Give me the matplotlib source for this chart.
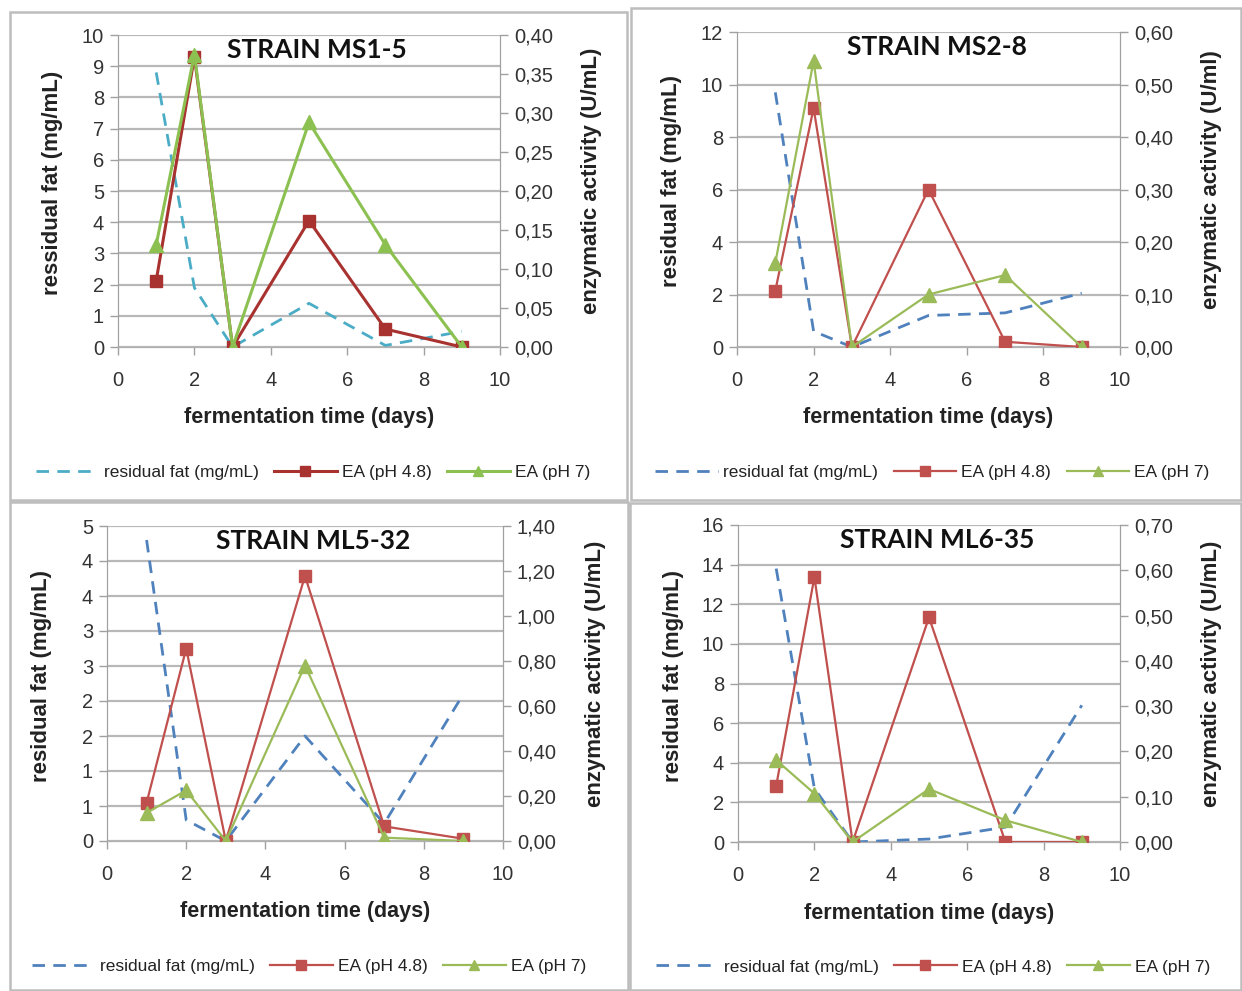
import matplotlib
matplotlib.use("Agg")
import matplotlib.pyplot as plt
from matplotlib.patches import Rectangle
from matplotlib.lines import Line2D

plt.rcParams['font.family'] = ['Liberation Sans', 'DejaVu Sans']

W, H = 1242, 991

days = [1, 2, 3, 5, 7, 9]

titles = ["STRAIN MS1-5", "STRAIN MS2-8", "STRAIN ML5-32", "STRAIN ML6-35"]

fat_ms15 = [8.8, 1.9, 0.0, 1.4, 0.05, 0.5]
ea48_ms15 = [0.085, 0.372, 0.0, 0.162, 0.023, 0.0]
ea7_ms15 = [0.131, 0.375, 0.0, 0.288, 0.131, 0.0]

fat_ms28 = [9.7, 0.6, 0.0, 1.2, 1.3, 2.05]
ea48_ms28 = [0.107, 0.455, 0.0, 0.300, 0.010, 0.0]
ea7_ms28 = [0.160, 0.545, 0.0, 0.100, 0.137, 0.0]

fat_ml532 = [4.3, 0.3, 0.0, 1.5, 0.25, 2.1]
ea48_ml532 = [0.17, 0.855, 0.0, 1.178, 0.065, 0.01]
ea7_ml532 = [0.125, 0.225, 0.0, 0.78, 0.015, 0.0]

fat_ml635 = [13.8, 2.7, 0.0, 0.15, 0.75, 6.9]
ea48_ml635 = [0.124, 0.585, 0.0, 0.496, 0.0, 0.0]
ea7_ml635 = [0.181, 0.107, 0.0, 0.117, 0.048, 0.0]

left_ticks = [
    [0, 1, 2, 3, 4, 5, 6, 7, 8, 9, 10],
    [0, 2, 4, 6, 8, 10, 12],
    [0, 0.5, 1.0, 1.5, 2.0, 2.5, 3.0, 3.5, 4.0, 4.5],
    [0, 2, 4, 6, 8, 10, 12, 14, 16],
]
left_ticklabels = [
    ["0", "1", "2", "3", "4", "5", "6", "7", "8", "9", "10"],
    ["0", "2", "4", "6", "8", "10", "12"],
    ["0", "1", "1", "2", "2", "3", "3", "4", "4", "5"],
    ["0", "2", "4", "6", "8", "10", "12", "14", "16"],
]
right_ticks = [
    [0, 0.05, 0.10, 0.15, 0.20, 0.25, 0.30, 0.35, 0.40],
    [0, 0.10, 0.20, 0.30, 0.40, 0.50, 0.60],
    [0, 0.20, 0.40, 0.60, 0.80, 1.00, 1.20, 1.40],
    [0, 0.10, 0.20, 0.30, 0.40, 0.50, 0.60, 0.70],
]
ylabels_left = ["ressidual fat (mg/mL)", "residual fat (mg/mL)",
                "residual fat (mg/mL)", "residual fat (mg/mL)"]
ylabels_right = ["enzymatic activity (U/mL)", "enzymatic activity (U/ml)",
                 "enzymatic activity (U/mL)", "enzymatic activity (U/mL)"]
legend_labels = ["residual fat (mg/mL)", "EA (pH 4.8)", "EA (pH 7)"]
xlabel = "fermentation time (days)"

fats = [fat_ms15, fat_ms28, fat_ml532, fat_ml635]
ea48s = [ea48_ms15, ea48_ms28, ea48_ml532, ea48_ml635]
ea7s = [ea7_ms15, ea7_ms28, ea7_ml532, ea7_ml635]

# layout in pixels: (left, right, top, bottom) of plot area
areas = [(118, 500, 35, 347), (737, 1120, 32, 347),
         (107, 503, 526, 841), (738, 1120, 525, 842)]
boxes = [(10, 12, 627, 500), (631, 8, 1241, 500),
         (10, 502, 628, 990), (630, 503, 1241, 990)]

fat_colors = ['#4BACC6', '#4F81BD', '#4F81BD', '#4F81BD']
red_colors = ['#A8322F', '#C0504D', '#C0504D', '#C0504D']
green_colors = ['#8CC152', '#9BBB59', '#9BBB59', '#9BBB59']
lws = [2.2, 1.6, 1.6, 1.6]
dash = (0, (4.5, 3))

fig = plt.figure(figsize=(W / 100, H / 100), dpi=100)
fig.patch.set_facecolor('white')

for (x0, y0, x1, y1) in boxes:
    fig.patches.append(Rectangle((x0 / W, 1 - y1 / H), (x1 - x0) / W, (y1 - y0) / H,
                                 transform=fig.transFigure, fill=False,
                                 edgecolor='#BDBDBD', linewidth=1.8))


def px(x, y):
    return x / W, 1 - y / H


for i in range(4):
    l, r, t, b = areas[i]
    ax = fig.add_axes([l / W, 1 - b / H, (r - l) / W, (b - t) / H])
    ax2 = ax.twinx()
    ax.set_xlim(0, 10)
    ax.set_ylim(left_ticks[i][0], left_ticks[i][-1])
    ax2.set_ylim(right_ticks[i][0], right_ticks[i][-1])
    ax.set_xticks([0, 2, 4, 6, 8, 10])
    ax.set_yticks(left_ticks[i])
    ax.set_yticklabels(left_ticklabels[i])
    ax2.set_yticks(right_ticks[i])
    ax2.set_yticklabels([("%.2f" % v).replace('.', ',') for v in right_ticks[i]])
    ax.grid(axis='y', color='#B8B8B8', linewidth=1.6)
    ax.set_axisbelow(True)
    for a in (ax, ax2):
        a.spines['top'].set_visible(False)
        a.spines['left'].set_color('#A0A0A0')
        a.spines['right'].set_color('#A0A0A0')
        a.spines['bottom'].set_color('#B0B0B0')
        a.tick_params(colors='#A0A0A0', labelcolor='#333333', labelsize=14.5,
                      length=6, width=1)
    ax.tick_params(axis='y', pad=4)
    ax.tick_params(axis='x', pad=11, direction='out')
    ax2.tick_params(axis='y', pad=4)
    ax.patch.set_visible(False)

    ax.plot(days, fats[i], color=fat_colors[i], linestyle=dash,
            linewidth=2.0, zorder=2)
    ax2.plot(days, ea48s[i], color=red_colors[i], linewidth=lws[i],
             marker='s', markersize=9, markerfacecolor=red_colors[i],
             markeredgecolor=red_colors[i], zorder=3)
    ax2.plot(days, ea7s[i], color=green_colors[i], linewidth=lws[i],
             marker='^', markersize=10, markerfacecolor=green_colors[i],
             markeredgecolor=green_colors[i], zorder=4)

    cx = (l + r) / 2
    fig.text(*px(cx + 8, t + 15), titles[i], ha='center', va='center',
             fontsize=19, fontweight='bold', family=['Lato', 'DejaVu Sans'],
             color='#111111')
    fig.text(*px(cx - 0, b + 71), xlabel, ha='center', va='center',
             fontsize=15.5, fontweight='bold', color='#222222')
    fig.text(*px(l - 65, (t + b) / 2 - 8), ylabels_left[i], ha='center',
             va='center', rotation=90, fontsize=16, fontweight='bold',
             color='#222222')
    fig.text(*px(r + 92, (t + b) / 2 - 10), ylabels_right[i], ha='center',
             va='center', rotation=90, fontsize=16, fontweight='bold',
             color='#222222')

    hl = [Line2D([], [], color=fat_colors[i], linestyle=dash, linewidth=2.0),
          Line2D([], [], color=red_colors[i], linewidth=lws[i], marker='s',
                 markersize=7, markeredgecolor=red_colors[i]),
          Line2D([], [], color=green_colors[i], linewidth=lws[i], marker='^',
                 markersize=7, markeredgecolor=green_colors[i])]
    leg = fig.legend(hl, legend_labels, loc='center',
                     bbox_to_anchor=px(cx + 4, b + 125), ncol=3, frameon=False,
                     fontsize=12.5, handlelength=3.6, columnspacing=0.9,
                     handletextpad=0.3)
    for txt in leg.get_texts():
        txt.set_color('#222222')

fig.savefig('out.png', dpi=100)
